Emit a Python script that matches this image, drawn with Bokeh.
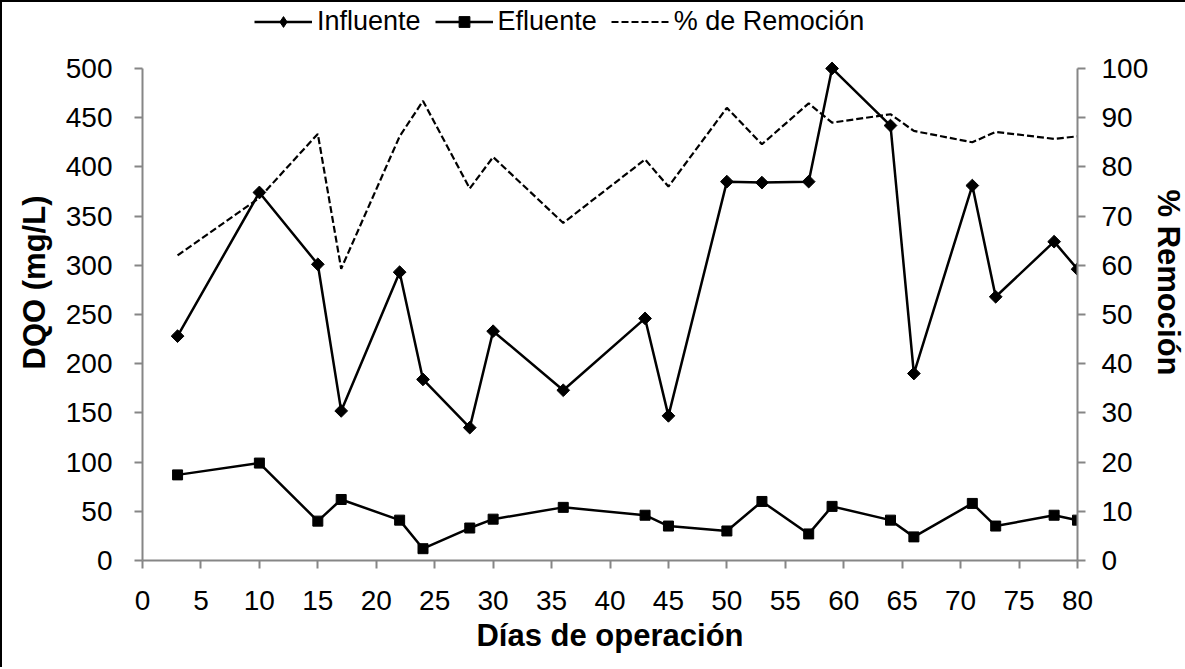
import math
from bokeh.plotting import figure
from bokeh.models import Range1d, LinearAxis, Legend, LegendItem, FixedTicker
from bokeh.embed import file_html
from bokeh.resources import INLINE

# ---- data ----
dias = [3, 10, 15, 17, 22, 24, 28, 30, 36, 43, 45, 50, 53, 57, 59, 64, 66, 71, 73, 78, 80]
influente = [228, 374, 301, 152, 293, 184, 135, 233, 173, 246, 147, 385, 384, 385, 500, 442, 190, 381, 268, 324, 296]
efluente = [87, 99, 40, 62, 41, 12, 33, 42, 54, 46, 35, 30, 60, 27, 55, 41, 24, 58, 35, 46, 41]
remocion = [62.0, 73.7, 86.7, 59.3, 86.2, 93.4, 75.6, 82.0, 68.6, 81.5, 76.0, 92.0, 84.6, 92.9, 89.0, 90.7, 87.3, 85.0, 87.1, 85.7, 86.2]

x_ticks = list(range(0, 81, 5))
y_ticks = list(range(0, 501, 50))
y2_ticks = list(range(0, 101, 10))

FONT = "Liberation Sans"
AXC = "#868686"

# frame extends above the 500 mark so the legend sits inside it (axes stop at 500 / 100)
p = figure(frame_width=935, frame_height=556, output_backend="svg", toolbar_location=None,
           x_range=Range1d(0, 80), y_range=Range1d(0, 565),
           min_border_left=140, min_border_right=106, min_border_top=2, min_border_bottom=107)
p.styles = {"border-top": "2px solid black", "border-left": "2px solid black"}
p.extra_y_ranges = {"pct": Range1d(0, 113)}
p.outline_line_color = None
p.xgrid.visible = False
p.ygrid.visible = False
p.background_fill_color = "white"
p.border_fill_color = "white"

ax_right = LinearAxis(y_range_name="pct")
p.add_layout(ax_right, "right")

p.xaxis.ticker = FixedTicker(ticks=x_ticks)
p.yaxis[0].ticker = FixedTicker(ticks=y_ticks)
ax_right.ticker = FixedTicker(ticks=y2_ticks)
p.yaxis[0].bounds = (0, 500)
ax_right.bounds = (0, 100)

for ax in [p.xaxis[0], p.yaxis[0], ax_right]:
    ax.axis_line_color = AXC
    ax.axis_line_width = 2
    ax.major_tick_line_color = AXC
    ax.major_tick_line_width = 2
    ax.major_tick_out = 8
    ax.major_tick_in = 0
    ax.minor_tick_line_color = None
    ax.major_label_text_font = FONT
    ax.major_label_text_font_size = "28px"
    ax.major_label_text_color = "black"
    ax.axis_label_text_font = FONT
    ax.axis_label_text_font_size = "31px"
    ax.axis_label_text_font_style = "bold"
    ax.axis_label_text_color = "black"

p.xaxis[0].axis_label = "Días de operación"
p.yaxis[0].axis_label = "DQO (mg/L)"
ax_right.axis_label = "% Remoción"
p.xaxis[0].major_label_standoff = 22
p.yaxis[0].major_label_standoff = 22
ax_right.major_label_standoff = 16
p.xaxis[0].axis_label_standoff = 5
p.yaxis[0].axis_label_standoff = 11
ax_right.axis_label_standoff = 0

r_rem = p.line(dias, remocion, y_range_name="pct", line_color="black", line_width=2.2, line_dash="7 3")
r_inf_l = p.line(dias, influente, line_color="black", line_width=2.5)
r_inf_m = p.scatter(dias, influente, marker="square", angle=math.pi / 4, size=9,
                    fill_color="black", line_color="black")
r_ef_l = p.line(dias, efluente, line_color="black", line_width=2.5)
r_ef_m = p.scatter(dias, efluente, marker="square", size=10, fill_color="black", line_color="black")
# legend-only diamond symbol (no visible data)
r_inf_leg = p.scatter([float("nan")], [float("nan")], marker="diamond", size=14,
                      fill_color="black", line_color="black")

legend = Legend(items=[
    LegendItem(label="Influente", renderers=[r_inf_l, r_inf_leg]),
    LegendItem(label="Efluente", renderers=[r_ef_l, r_ef_m]),
    LegendItem(label="% de Remoción", renderers=[r_rem]),
], location=(112, 523), orientation="horizontal")
legend.label_text_font = FONT
legend.label_text_font_size = "27px"
legend.label_text_color = "black"
legend.glyph_width = 58
legend.glyph_height = 27
legend.label_standoff = 5
legend.spacing = 14
legend.padding = 0
legend.margin = 0
legend.border_line_alpha = 0
legend.background_fill_alpha = 0
p.add_layout(legend, "center")

open("out.html", "w").write(file_html(p, INLINE))
